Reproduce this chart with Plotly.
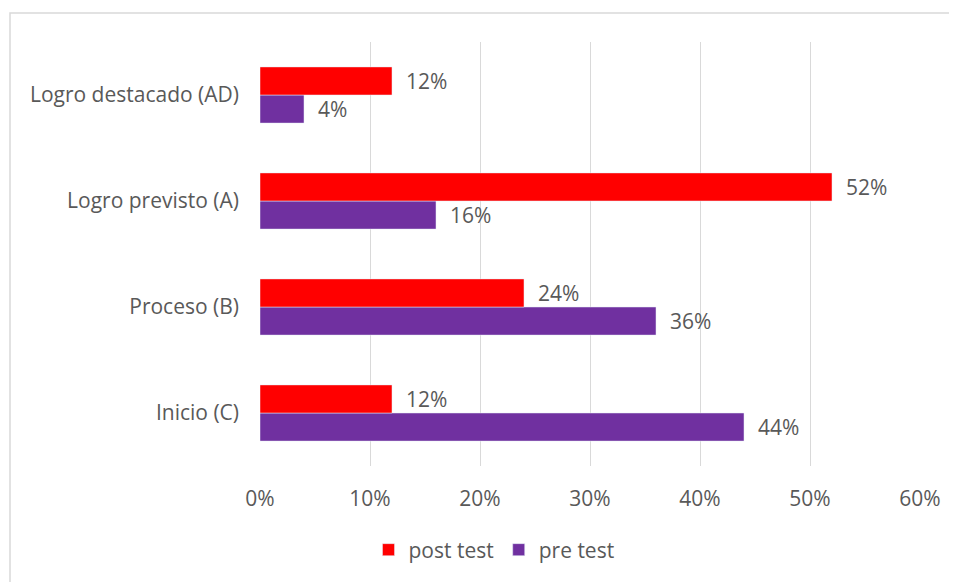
import plotly.graph_objects as go

categories = ["Inicio (C)", "Proceso (B)", "Logro previsto (A)", "Logro destacado (AD)"]
pre_test = [0.44, 0.36, 0.16, 0.04]
post_test = [0.12, 0.24, 0.52, 0.12]
x_ticks = [0, 0.1, 0.2, 0.3, 0.4, 0.5, 0.6]

FONT = "Open Sans"
TXT = "#595959"
FS = 21

fig = go.Figure()
fig.add_trace(go.Bar(
    y=categories, x=pre_test, name="pre test", orientation="h",
    marker=dict(color="#7030A0"),
    text=[f"  {v:.0%}" for v in pre_test], textposition="outside",
    textfont=dict(family=FONT, size=FS, color=TXT), cliponaxis=False,
))
fig.add_trace(go.Bar(
    y=categories, x=post_test, name="post test", orientation="h",
    marker=dict(color="#FF0000"),
    text=[f"  {v:.0%}" for v in post_test], textposition="outside",
    textfont=dict(family=FONT, size=FS, color=TXT), cliponaxis=False,
))

# page offset of 8px (body margin) compensated
OFF = 8
W, H = 957 - OFF, 582 - OFF
L, R, T = 260 - OFF, 37, 42 - OFF
B = H - (466 - OFF)
pw, ph = W - L - R, H - T - B

def px_y(page_y):
    return (466 - page_y) / ph

def px_x(page_x):
    return (page_x - 260) / pw

fig.update_layout(
    width=W, height=H,
    margin=dict(l=L, r=R, t=T, b=B),
    paper_bgcolor="white", plot_bgcolor="white",
    barmode="group", bargap=0.47, bargroupgap=0,
    font=dict(family=FONT, size=FS, color=TXT),
    showlegend=True,
    legend=dict(orientation="h", traceorder="reversed",
                x=px_x(494), xanchor="center",
                y=px_y(550), yanchor="middle",
                font=dict(family=FONT, size=FS, color=TXT)),
    xaxis=dict(range=[0, 0.6], tickvals=x_ticks, tickformat=".0%",
               showgrid=True, gridcolor="#D9D9D9", gridwidth=1.3,
               zeroline=False, showline=False, ticks="", ticklen=0,
               ticklabelstandoff=18,
               tickfont=dict(family=FONT, size=FS, color=TXT)),
    yaxis=dict(type="category", showgrid=False, zeroline=False,
               showline=False, ticks="", ticklabelstandoff=20,
               tickfont=dict(family=FONT, size=FS, color=TXT)),
    shapes=[dict(type="rect", xref="paper", yref="paper",
                 x0=px_x(10), x1=px_x(990),
                 y0=px_y(620), y1=px_y(13),
                 line=dict(color="#D9D9D9", width=1.5), fillcolor="rgba(0,0,0,0)",
                 layer="below")],
)

fig.write_html("out.html")
